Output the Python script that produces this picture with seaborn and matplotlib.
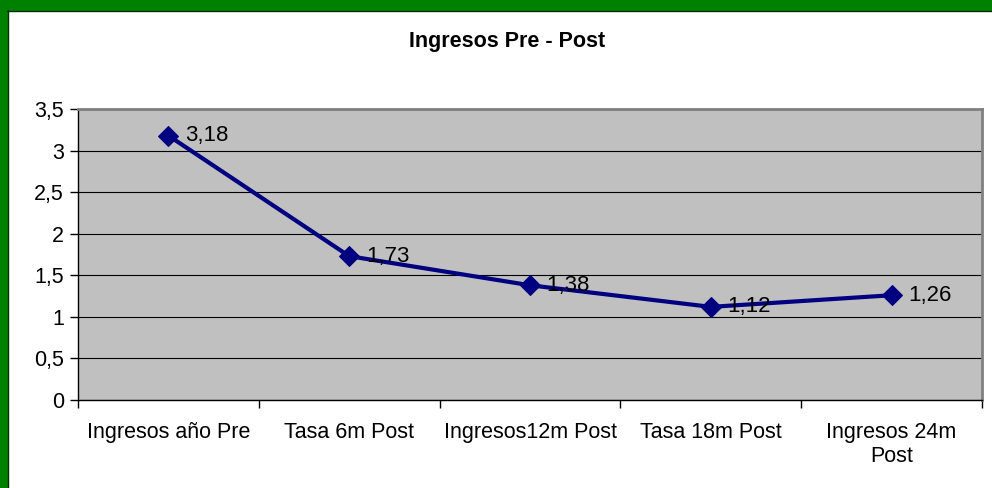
import matplotlib
matplotlib.use("Agg")
import matplotlib.pyplot as plt
from matplotlib.patches import Rectangle
from matplotlib.ticker import FixedLocator, MultipleLocator, FuncFormatter
import seaborn as sns
import pandas as pd

categorias = ["Ingresos año Pre", "Tasa 6m Post", "Ingresos12m Post",
              "Tasa 18m Post", "Ingresos 24m\nPost"]
valores = [3.18, 1.73, 1.38, 1.12, 1.26]
etiquetas = ["3,18", "1,73", "1,38", "1,12", "1,26"]

df = pd.DataFrame({"pos": range(len(categorias)), "valor": valores})

sns.set_style("white")
plt.rcParams["font.family"] = ["Liberation Sans", "DejaVu Sans"]
plt.rcParams["text.color"] = "black"
plt.rcParams["xtick.color"] = "black"
plt.rcParams["ytick.color"] = "black"

fig = plt.figure(figsize=(9.92, 4.88), dpi=100)
fig.patch.set_facecolor("white")
ax = fig.add_axes([78 / 992, 88 / 488, 904 / 992, 291 / 488])
ax.set_facecolor("#C0C0C0")

sns.lineplot(data=df, x="pos", y="valor", ax=ax, color="#000080",
             linewidth=3, marker="D", markersize=10, markeredgecolor="#000080",
             zorder=5)

for x, y, t in zip(df["pos"], valores, etiquetas):
    ax.annotate(t, (x, y), xytext=(12, 0), textcoords="offset points",
                ha="left", va="center", fontsize=16, color="black", zorder=6)

ax.set_xlim(-0.5, len(categorias) - 0.5)
ax.set_ylim(0, 3.5)
ax.yaxis.set_major_locator(MultipleLocator(0.5))
ax.yaxis.set_major_formatter(FuncFormatter(
    lambda v, p: ("%g" % v).replace(".", ",")))
ax.grid(axis="y", color="black", linewidth=0.8)
ax.set_axisbelow(True)

ax.set_xticks(range(len(categorias)))
ax.set_xticklabels(categorias, fontsize=15.5, color="black")
ax.xaxis.set_minor_locator(FixedLocator([i - 0.5 for i in range(len(categorias) + 1)]))
ax.tick_params(axis="x", which="major", length=0, pad=16)
ax.tick_params(axis="x", which="minor", length=6, width=1, color="black",
               direction="out", bottom=True)
ax.tick_params(axis="y", length=6, width=1, color="black", direction="out",
               left=True, labelsize=15.5, labelcolor="black", pad=4)
ax.set_xlabel("")
ax.set_ylabel("")

for s in ["left", "bottom"]:
    ax.spines[s].set_color("black")
    ax.spines[s].set_linewidth(1)
for s in ["top", "right"]:
    ax.spines[s].set_color("#808080")
    ax.spines[s].set_linewidth(2)

fig.text(507 / 992, 1 - 42 / 488, "Ingresos Pre - Post", ha="center",
         va="center", fontsize=15.5, fontweight="bold", color="black")

# marco verde (arriba e izquierda)
fig.add_artist(Rectangle((0, 1 - 10 / 488), 1, 10 / 488,
                         transform=fig.transFigure, color="#008000", zorder=10))
fig.add_artist(Rectangle((0, 0), 7 / 992, 1, transform=fig.transFigure,
                         color="#008000", zorder=10))
fig.add_artist(plt.Line2D([7 / 992, 1], [1 - 10.5 / 488, 1 - 10.5 / 488],
                          transform=fig.transFigure, color="#003000", lw=1, zorder=11))
fig.add_artist(plt.Line2D([7.5 / 992, 7.5 / 992], [0, 1 - 10 / 488],
                          transform=fig.transFigure, color="#003000", lw=1, zorder=11))

fig.savefig("out.png", dpi=100)
